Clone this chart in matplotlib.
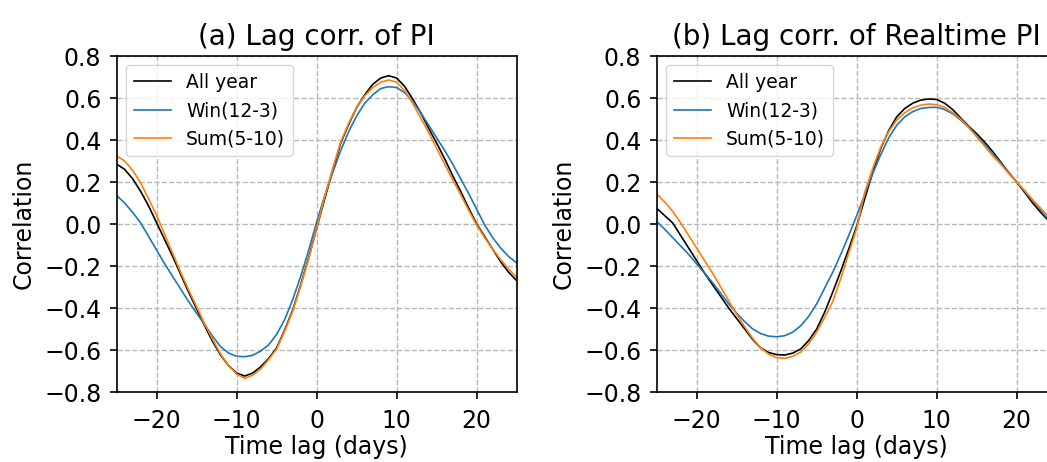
import numpy as np
import matplotlib
matplotlib.use('Agg')
import matplotlib.pyplot as plt

# time lag in days
lags = np.arange(-25, 26)

# (a) lag correlation of PI
pi_all = [0.285, 0.26, 0.215, 0.155, 0.085, 0.005, -0.075, -0.155, -0.24, -0.325,
          -0.405, -0.485, -0.56, -0.625, -0.675, -0.71, -0.724, -0.71, -0.68, -0.64,
          -0.59, -0.505, -0.41, -0.29, -0.16, -0.02, 0.12, 0.255, 0.385, 0.475,
          0.555, 0.615, 0.665, 0.695, 0.706, 0.695, 0.655, 0.595, 0.53, 0.455,
          0.385, 0.31, 0.23, 0.155, 0.075, 0.0, -0.06, -0.12, -0.18, -0.23, -0.27]
pi_win = [0.135, 0.1, 0.055, 0.005, -0.06, -0.125, -0.19, -0.25, -0.31, -0.37,
          -0.425, -0.48, -0.535, -0.585, -0.615, -0.63, -0.632, -0.625, -0.605, -0.575,
          -0.525, -0.455, -0.36, -0.25, -0.125, 0.01, 0.135, 0.245, 0.35, 0.44,
          0.515, 0.575, 0.615, 0.645, 0.654, 0.65, 0.625, 0.585, 0.53, 0.47,
          0.41, 0.35, 0.285, 0.215, 0.145, 0.07, -0.005, -0.065, -0.115, -0.155, -0.185]
pi_sum = [0.324, 0.3, 0.255, 0.195, 0.12, 0.04, -0.05, -0.14, -0.23, -0.315,
          -0.395, -0.475, -0.55, -0.62, -0.675, -0.715, -0.735, -0.72, -0.69, -0.645,
          -0.595, -0.51, -0.415, -0.295, -0.165, -0.02, 0.13, 0.265, 0.39, 0.48,
          0.555, 0.61, 0.65, 0.675, 0.686, 0.675, 0.635, 0.575, 0.505, 0.435,
          0.36, 0.285, 0.21, 0.14, 0.065, -0.005, -0.065, -0.12, -0.17, -0.215, -0.255]

# (b) lag correlation of realtime PI
rpi_all = [0.075, 0.04, 0.005, -0.055, -0.115, -0.175, -0.235, -0.29, -0.345, -0.4,
           -0.45, -0.5, -0.55, -0.59, -0.612, -0.622, -0.624, -0.615, -0.595, -0.555,
           -0.5, -0.42, -0.325, -0.225, -0.12, -0.01, 0.12, 0.245, 0.36, 0.445,
           0.51, 0.55, 0.575, 0.59, 0.595, 0.593, 0.575, 0.545, 0.505, 0.465,
           0.43, 0.39, 0.345, 0.295, 0.245, 0.2, 0.15, 0.1, 0.055, 0.015, -0.02]
rpi_win = [0.012, -0.025, -0.065, -0.105, -0.145, -0.19, -0.235, -0.28, -0.33, -0.38,
           -0.425, -0.465, -0.5, -0.522, -0.534, -0.537, -0.532, -0.515, -0.485, -0.44,
           -0.38, -0.305, -0.23, -0.145, -0.055, 0.04, 0.14, 0.24, 0.33, 0.41,
           0.47, 0.51, 0.535, 0.55, 0.555, 0.556, 0.545, 0.525, 0.495, 0.46,
           0.42, 0.38, 0.335, 0.29, 0.245, 0.2, 0.155, 0.11, 0.065, 0.02, -0.02]
rpi_sum = [0.143, 0.105, 0.06, 0.005, -0.055, -0.115, -0.175, -0.235, -0.3, -0.365,
           -0.43, -0.49, -0.545, -0.59, -0.62, -0.636, -0.64, -0.63, -0.61, -0.57,
           -0.515, -0.445, -0.37, -0.26, -0.14, -0.02, 0.15, 0.265, 0.365, 0.44,
           0.495, 0.53, 0.553, 0.566, 0.571, 0.568, 0.555, 0.53, 0.5, 0.46,
           0.415, 0.37, 0.325, 0.285, 0.24, 0.2, 0.16, 0.115, 0.075, 0.035, -0.005]

labels = ['All year', 'Win(12-3)', 'Sum(5-10)']
colors = ['black', '#1f77b4', '#ff7f0e']
titles = ['(a) Lag corr. of PI', '(b) Lag corr. of Realtime PI']
yticks = [-0.8, -0.6, -0.4, -0.2, 0.0, 0.2, 0.4, 0.6, 0.8]

W, H = 1047, 462
fig = plt.figure(figsize=(W / 100, H / 100), dpi=100)

# axes placed in pixels, the right panel runs past the edge like the original crop
ax_a = fig.add_axes([116.7 / W, (H - 392) / H, 400 / W, 336 / H])
ax_b = fig.add_axes([656.7 / W, (H - 392) / H, 400 / W, 336 / H])

for ax, series, title in [(ax_a, [pi_all, pi_win, pi_sum], titles[0]),
                          (ax_b, [rpi_all, rpi_win, rpi_sum], titles[1])]:
    for y, lab, c in zip(series, labels, colors):
        ax.plot(lags, y, color=c, lw=1.2, label=lab)
    ax.set_xlim(-25, 25)
    ax.set_ylim(-0.8, 0.8)
    ax.set_yticks(yticks)
    ax.set_xticks([-20, -10, 0, 10, 20])
    ax.grid(True, ls='--', color='#b8b8b8', lw=1.0)
    ax.tick_params(labelsize=17, length=5, width=1.2, pad=6)
    ax.tick_params(axis='x', pad=7)
    for s in ax.spines.values():
        s.set_linewidth(1.2)
    ax.set_title(title, fontsize=20, pad=8)
    ax.set_ylabel('Correlation', fontsize=17, labelpad=6)
    ax.set_xlabel('Time lag (days)', fontsize=17, labelpad=2)
    ax.legend(loc='upper left', fontsize=13.5, framealpha=0.8, edgecolor='0.8',
              borderaxespad=0.5)

fig.savefig('out.png', dpi=100)
